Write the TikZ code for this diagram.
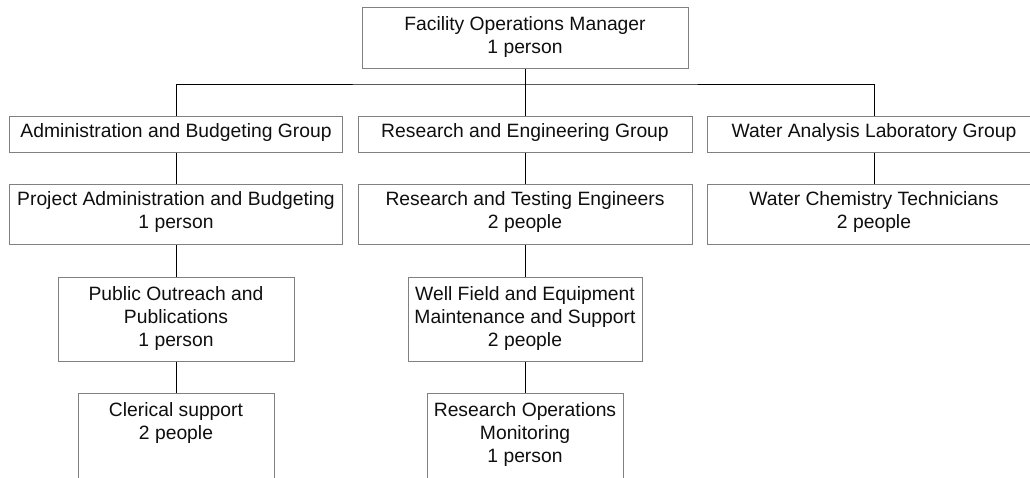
\documentclass[tikz,border=0pt]{standalone}
\usepackage{fontspec}
\setmainfont{Liberation Sans}
\definecolor{boxgray}{RGB}{128,128,128}
\definecolor{txtcol}{RGB}{15,15,15}
\begin{document}
\begin{tikzpicture}[x=1pt,y=-1pt,
  orgbox/.style={draw=boxgray, line width=1pt, inner sep=0pt, fill=white},
  lbl/.style={anchor=north, inner sep=0pt, align=center, text=txtcol,
              font=\fontsize{19.3}{23}\selectfont},
  conn/.style={draw=black, line width=1pt}]
\useasboundingbox (0,0) rectangle (1030,477);
\clip (0,0) rectangle (1030,477);

% boxes
\node[orgbox, minimum width=326pt, minimum height=61pt] (fom) at (525,37.5) {};
\node[orgbox, minimum width=333pt, minimum height=36pt] (g1) at (176,134) {};
\node[orgbox, minimum width=334pt, minimum height=36pt] (g2) at (525,134) {};
\node[orgbox, minimum width=334pt, minimum height=36pt] (g3) at (874,134) {};
\node[orgbox, minimum width=333pt, minimum height=60.5pt] (p1) at (176,214.25) {};
\node[orgbox, minimum width=334pt, minimum height=60.5pt] (p2) at (525,214.25) {};
\node[orgbox, minimum width=334pt, minimum height=60.5pt] (p3) at (874,214.25) {};
\node[orgbox, minimum width=236pt, minimum height=84pt] (po) at (176,319) {};
\node[orgbox, minimum width=234pt, minimum height=84pt] (wf) at (525,319) {};
\node[orgbox, minimum width=196pt, minimum height=100pt] (cs) at (176,443) {};
\node[orgbox, minimum width=196pt, minimum height=100pt] (ro) at (525,443) {};

% connectors
\coordinate (bus) at (525,84);
\draw[conn] (fom.south) -- (g2.north);
\draw[conn] (g1.north) |- (bus) -| (g3.north);
\draw[conn] (g1.south) -- (p1.north);
\draw[conn] (p1.south) -- (po.north);
\draw[conn] (po.south) -- (cs.north);
\draw[conn] (g2.south) -- (p2.north);
\draw[conn] (p2.south) -- (wf.north);
\draw[conn] (wf.south) -- (ro.north);
\draw[conn] (g3.south) -- (p3.north);

% labels
\node[lbl] (fomT) at ([yshift=-10pt]fom.north) {Facility Operations Manager\\1 person};
\node[lbl] (g1T) at ([yshift=-8pt]g1.north) {Administration and Budgeting Group};
\node[lbl] (g2T) at ([yshift=-8pt]g2.north) {Research and Engineering Group};
\node[lbl] (g3T) at ([yshift=-8pt]g3.north) {Water Analysis Laboratory Group};
\node[lbl] (p1T) at ([yshift=-8pt]p1.north) {Project Administration and Budgeting\\1 person};
\node[lbl] (p2T) at ([yshift=-8pt]p2.north) {Research and Testing Engineers\\2 people};
\node[lbl] (p3T) at ([yshift=-8pt]p3.north) {Water Chemistry Technicians\\2 people};
\node[lbl] (poT) at ([yshift=-10pt]po.north) {Public Outreach and\\Publications\\1 person};
\node[lbl] (wfT) at ([yshift=-10pt]wf.north) {Well Field and Equipment\\Maintenance and Support\\2 people};
\node[lbl] (csT) at ([yshift=-10pt]cs.north) {Clerical support\\2 people};
\node[lbl] (roT) at ([yshift=-10pt]ro.north) {Research Operations\\Monitoring\\1 person};
\end{tikzpicture}
\end{document}
